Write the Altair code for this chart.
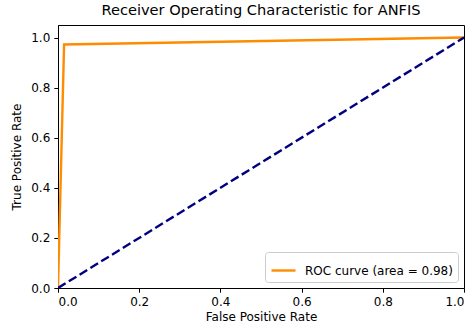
import altair as alt
import pandas as pd

fpr = [0.0, 0.015, 1.0]
tpr = [0.0, 0.972, 1.0]
diag_x = [0.0, 1.0]
diag_y = [0.0, 1.0]
roc_label = "ROC curve (area = 0.98)"
x_ticks = [0.0, 0.2, 0.4, 0.6, 0.8, 1.0]
y_ticks = [0.0, 0.2, 0.4, 0.6, 0.8, 1.0]

roc_df = pd.DataFrame({"fpr": fpr, "tpr": tpr, "series": [roc_label] * len(fpr), "order": list(range(len(fpr)))})
diag_df = pd.DataFrame({"fpr": diag_x, "tpr": diag_y, "order": [0, 1]})

x_enc = alt.X("fpr:Q", scale=alt.Scale(domain=[0, 1], nice=False, zero=False),
              axis=alt.Axis(values=x_ticks, format=".1f", title="False Positive Rate"))
y_enc = alt.Y("tpr:Q", scale=alt.Scale(domain=[0, 1.05], nice=False, zero=False),
              axis=alt.Axis(values=y_ticks, format=".1f", title="True Positive Rate"))

roc = alt.Chart(roc_df).mark_line(strokeWidth=2.4, clip=True).encode(
    x=x_enc, y=y_enc, order="order:Q",
    color=alt.Color("series:N", scale=alt.Scale(domain=[roc_label], range=["darkorange"]),
                    legend=alt.Legend(title=None, orient="bottom-right", offset=6,
                                      symbolType="stroke", symbolSize=576, symbolStrokeWidth=2.4,
                                      labelFontSize=12, labelFont="DejaVu Sans", labelColor="black",
                                      labelOffset=8,
                                      strokeColor="#cccccc", fillColor="white", cornerRadius=3,
                                      padding=5)),
)

diag = alt.Chart(diag_df).mark_line(strokeWidth=2.4, color="navy", strokeDash=[8.9, 3.8], clip=True).encode(
    x="fpr:Q", y="tpr:Q", order="order:Q"
)

chart = alt.layer(roc, diag).properties(
    width=406, height=263,
    title=alt.TitleParams("Receiver Operating Characteristic for ANFIS", fontSize=14.6,
                          font="DejaVu Sans", fontWeight="normal", color="black", offset=7),
    autosize=alt.AutoSizeParams(type="none"),
    padding={"left": 58, "top": 25, "right": 8, "bottom": 43},
).configure_view(stroke="black", strokeWidth=1).configure_axis(
    grid=False, domainColor="black", tickColor="black", tickSize=4.2,
    labelFont="DejaVu Sans", labelFontSize=12, labelColor="black",
    titleFont="DejaVu Sans", titleFontSize=12, titleFontWeight="normal", titleColor="black",
    labelPadding=4,
).configure_axisX(titlePadding=4).configure_axisY(titlePadding=7)

chart.save("out.html", embed_options={"renderer": "svg", "actions": False})
